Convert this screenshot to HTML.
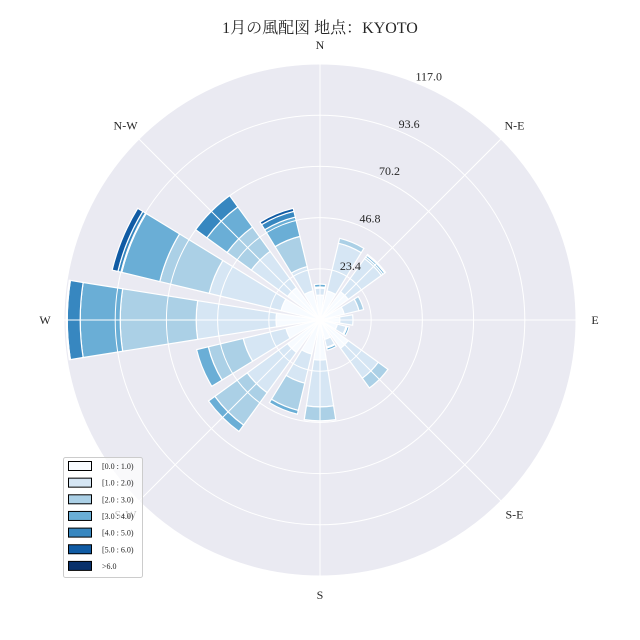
<!DOCTYPE html>
<html><head><meta charset="utf-8"><style>
html,body{margin:0;padding:0;background:#fff;}
svg{display:block;font-family:"Liberation Serif","Noto Serif CJK SC",serif;}
</style></head><body>
<svg id="chart" width="640" height="640" viewBox="0 0 640 640" xmlns="http://www.w3.org/2000/svg">
<text x="320" y="33" text-anchor="middle" font-size="16" fill="#262626" style="font-family:'Liberation Serif','Noto Serif CJK SC',serif">1月の風配図 地点：KYOTO</text>
<circle cx="320" cy="320" r="256" fill="#eaeaf2"/>
<g id="bars"></g>
<g id="grid"></g>
<g id="labels"></g>
<g id="legend"></g>
</svg>
<script>
const directions = ["N","NNE","NE","ENE","E","ESE","SE","SSE","S","SSW","SW","WSW","W","WNW","NW","NNW"];
const binLabels = ["[0.0 : 1.0)","[1.0 : 2.0)","[2.0 : 3.0)","[3.0 : 4.0)","[4.0 : 5.0)","[5.0 : 6.0)",">6.0"];
const bin0 = [11.4,13.7,16.0,11.4,9.1,8.2,16.0,9.1,18.3,16.0,18.3,16.0,20.1,18.3,18.3,13.7];
const bin1 = [3.2,22.4,18.7,6.9,6.0,4.1,16.9,3.7,21.4,13.7,22.8,20.1,36.5,33.8,20.5,11.4];
const bin2 = [0.5,2.3,0.9,2.2,0,0.5,5.5,0.4,6.4,12.8,18.3,16.4,34.7,23.2,13.7,14.2];
const bin3 = [1.3,0,0.9,0,0,0.9,0,1.0,0,1.8,3.6,5.5,18.3,17.9,11.4,9.1];
const bin4 = [0,0,0.5,0,0,0,0,0,0,0,0,0,5.9,1.8,6.4,2.7];
const bin5 = [0,0,0,0,0,0,0,0,0,0,0,0,0.5,2.7,0,1.4];
const bin6 = [0,0,0,0,0,0,0,0,0,0,0,0,0,0,0,0];
const ringTicks = [23.4,46.8,70.2,93.6,117.0];
const compassLabels = ["N","N-E","E","S-E","S","S-W","W","N-W"];

const bins=[bin0,bin1,bin2,bin3,bin4,bin5,bin6];
const colors=["#f7fbff","#d6e6f4","#abd0e6","#6aaed6","#3787c0","#105ba4","#08306b"];
const CX=320,CY=320,RMAX=256,VMAX=117.0;
const NS="http://www.w3.org/2000/svg";
function rScale(v){return v/VMAX*RMAX;}
function pt(r,deg){const a=deg*Math.PI/180;return [CX+r*Math.sin(a),CY-r*Math.cos(a)];}
function mk(tag,attrs,parent){const e=document.createElementNS(NS,tag);for(const k in attrs)e.setAttribute(k,attrs[k]);parent.appendChild(e);return e;}

const gb=document.getElementById('bars');
const half=9;
directions.forEach((d,i)=>{
  const ang=i*22.5;let cum=0;
  bins.forEach((b,j)=>{
    const v=b[i];if(v<=0)return;
    const r0=rScale(cum),r1=rScale(cum+v);cum+=v;
    const a0=ang-half,a1=ang+half;
    const p1=pt(r0,a0),p2=pt(r1,a0),p3=pt(r1,a1),p4=pt(r0,a1);
    const path=`M${p1[0]},${p1[1]} L${p2[0]},${p2[1]} A${r1},${r1} 0 0 1 ${p3[0]},${p3[1]} L${p4[0]},${p4[1]} A${r0},${r0} 0 0 0 ${p1[0]},${p1[1]}Z`;
    const e=mk('path',{d:path,fill:colors[j],stroke:'#ffffff','stroke-width':'1.2'},gb);
    
    
  });
});

const gg=document.getElementById('grid');
ringTicks.forEach(t=>{
  const c=mk('circle',{cx:CX,cy:CY,r:rScale(t),fill:'none',stroke:'#ffffff','stroke-width':'1'},gg);
  
  
});
for(let k=0;k<8;k++){
  const p=pt(RMAX,k*45);
  const l=mk('line',{x1:CX,y1:CY,x2:p[0],y2:p[1],stroke:'#ffffff','stroke-width':'1'},gg);
  
  
}

const gl=document.getElementById('labels');
compassLabels.forEach((s,k)=>{
  const p=pt(RMAX+19,k*45);
  const t=mk('text',{x:p[0],y:p[1]+4,'text-anchor':'middle','font-size':'12',fill:'#262626'},gl);
  t.textContent=s;
  
  
});
ringTicks.forEach(v=>{
  const p=pt(rScale(v)+2,22.5);
  const t=mk('text',{x:p[0]+10,y:p[1]-1,'text-anchor':'middle','font-size':'12',fill:'#262626'},gl);
  t.textContent=v.toFixed(1);
  
  
});

const lg=document.getElementById('legend');


mk('rect',{x:63.5,y:457.5,width:79,height:120,rx:2,fill:'#ffffff','fill-opacity':'0.7',stroke:'#cccccc','stroke-width':'1'},lg);
binLabels.forEach((s,j)=>{
  const y=466+j*16.65;
  const r=mk('rect',{x:68.5,y:y-4.5,width:23,height:9,fill:colors[j],stroke:'#000','stroke-width':'1'},lg);
  
  
  const t=mk('text',{x:102,y:y+3,'font-size':'8',fill:'#262626'},lg);
  t.textContent=s;
  
  
});
</script>
</body></html>
